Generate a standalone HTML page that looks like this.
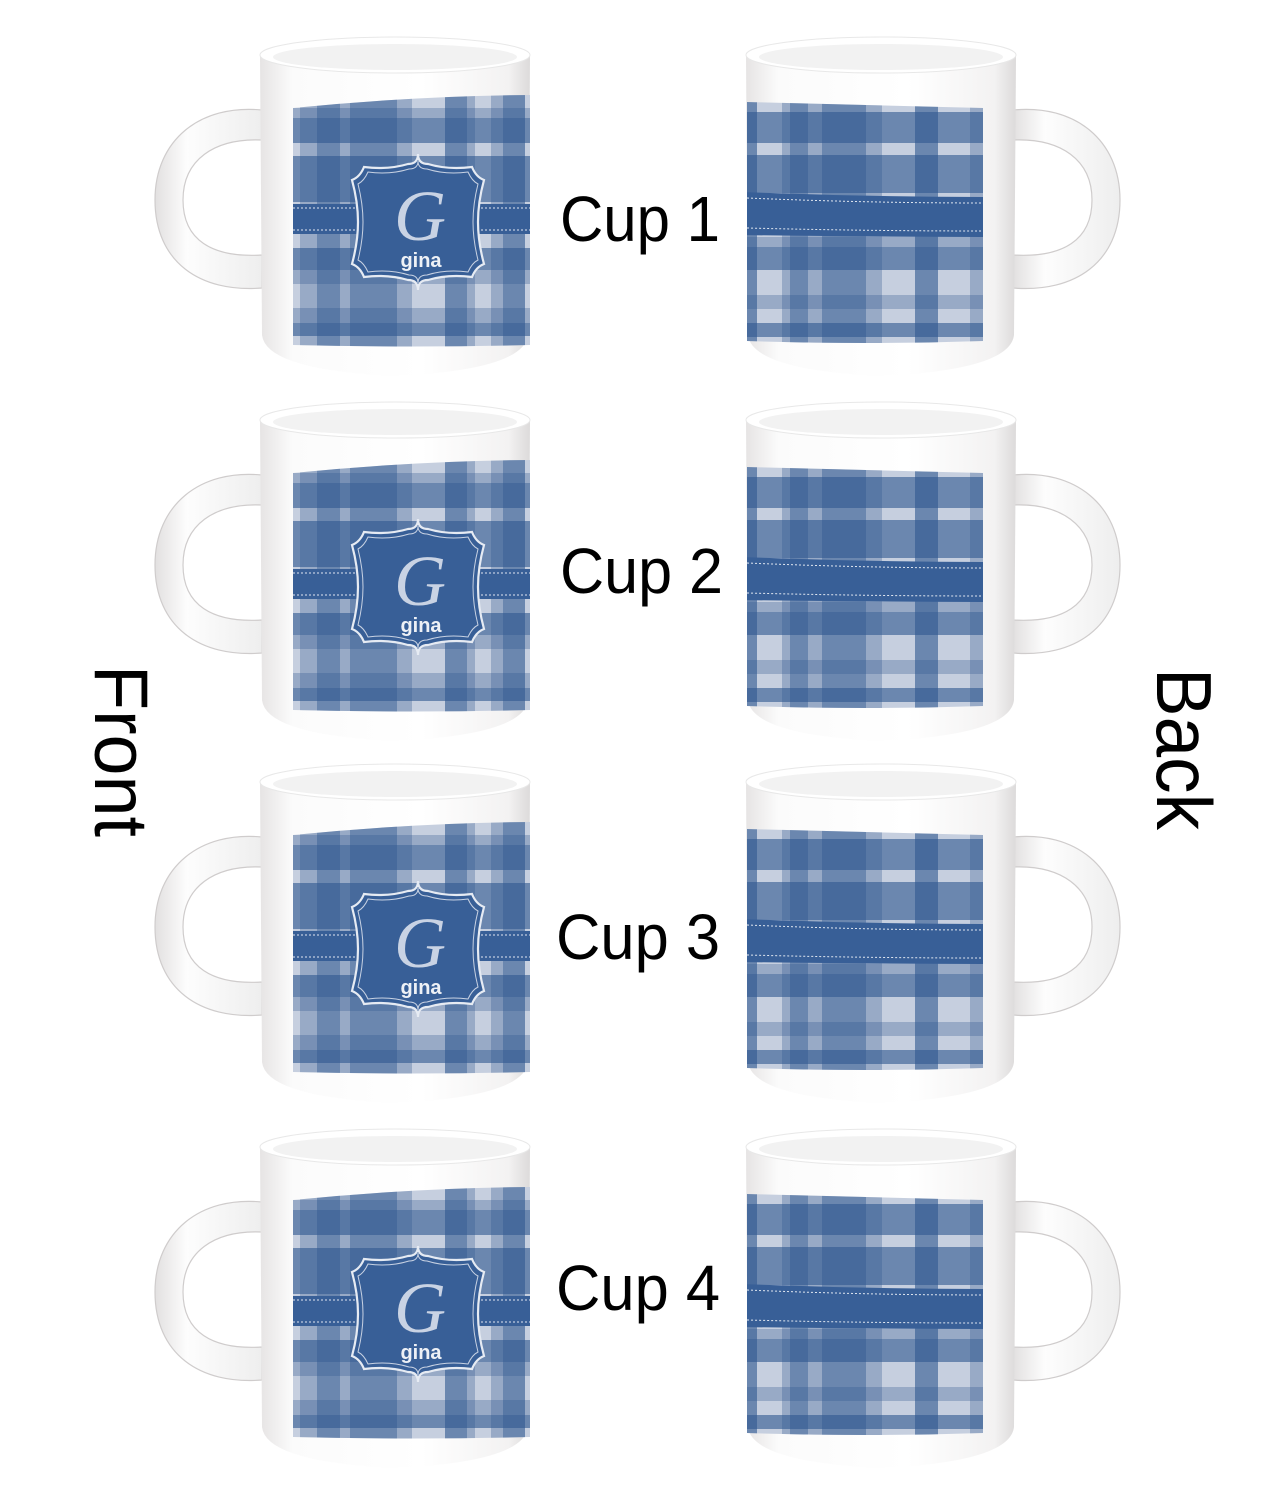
<!DOCTYPE html>
<html><head><meta charset="utf-8"><style>html,body{margin:0;padding:0;background:#fff}svg{display:block}</style></head>
<body>
<svg width="1275" height="1500" viewBox="0 0 1275 1500" xmlns="http://www.w3.org/2000/svg">
<defs>
<linearGradient id="body" x1="0" x2="1" y1="0" y2="0">
<stop offset="0" stop-color="#e6e4e4"/><stop offset="0.12" stop-color="#fbfbfb"/><stop offset="0.6" stop-color="#ffffff"/><stop offset="0.92" stop-color="#f3f2f2"/><stop offset="1" stop-color="#dcdada"/>
</linearGradient>
<linearGradient id="hand" x1="0" x2="1" y1="0" y2="0">
<stop offset="0" stop-color="#e2e0e0"/><stop offset="0.3" stop-color="#fdfdfd"/><stop offset="1" stop-color="#eeeeee"/>
</linearGradient>
<clipPath id="fc"><path d="M0,10 Q120,-2 237,-3 L237,247 Q120,250 0,247 Z"/></clipPath>
<clipPath id="bc"><path d="M0,-3 Q120,0 236,3 L236,236 Q120,240 0,236 Z"/></clipPath>
<g id="front">
<g clip-path="url(#fc)">
<rect x="0" y="-5" width="237" height="255" fill="#c6cfdf"/>
<g fill="#2f5690" fill-opacity="0.6">
<rect x="24" y="-5" width="23" height="255"/><rect x="57" y="-5" width="47" height="255"/>
<rect x="152" y="-5" width="22" height="255"/><rect x="210" y="-5" width="22" height="255"/>
<rect x="-5" y="20" width="250" height="25"/><rect x="-5" y="58" width="250" height="46"/>
<rect x="-5" y="150" width="250" height="22"/><rect x="-5" y="225" width="250" height="13"/>
</g>
<g fill="#2f5690" fill-opacity="0.3">
<rect x="7" y="-5" width="17" height="255"/><rect x="47" y="-5" width="10" height="255"/><rect x="104" y="-5" width="15" height="255"/><rect x="174" y="-5" width="8" height="255"/><rect x="198" y="-5" width="12" height="255"/>
<rect x="-5" y="10" width="250" height="10"/><rect x="-5" y="172" width="250" height="14"/><rect x="-5" y="210" width="250" height="15"/>
</g>
<rect x="-5" y="106" width="250" height="30" fill="#385f97"/>
<line x1="0" y1="110" x2="237" y2="110" stroke="#dfe6f0" stroke-width="1" stroke-dasharray="2,2"/>
<line x1="0" y1="132" x2="237" y2="132" stroke="#dfe6f0" stroke-width="1" stroke-dasharray="2,2"/>
</g>
<g transform="translate(125,124)">
<path d="M-54,-55 Q-30,-52 -10,-58 Q0,-58 0,-68 Q0,-58 10,-58 Q30,-52 54,-55 Q58,-45 66,-42 Q60,-20 60,0 Q60,20 66,42 Q58,45 54,55 Q30,52 10,58 Q0,58 0,68 Q0,58 -10,58 Q-30,52 -54,55 Q-58,45 -66,42 Q-60,20 -60,0 Q-60,-20 -66,-42 Q-58,-45 -54,-55 Z" fill="#385f97" stroke="#e6ebf3" stroke-width="2.2"/>
<path d="M-50,-50 Q-28,-47 -9,-53 Q0,-53 0,-61 Q0,-53 9,-53 Q28,-47 50,-50 Q54,-41 60,-38 Q55,-18 55,0 Q55,18 60,38 Q54,41 50,50 Q28,47 9,53 Q0,53 0,61 Q0,53 -9,53 Q-28,47 -50,50 Q-54,41 -60,38 Q-55,18 -55,0 Q-55,-18 -60,-38 Q-54,-41 -50,-50 Z" fill="none" stroke="#c8d2e3" stroke-width="1"/>
<text x="2" y="18" text-anchor="middle" font-family="Liberation Serif, serif" font-style="italic" font-size="72" fill="#c9d3e4">G</text>
<text x="3" y="45" text-anchor="middle" font-family="Liberation Sans, sans-serif" font-weight="bold" font-size="20" fill="#eef1f6">gina</text>
</g>
</g>
<g id="back">
<g clip-path="url(#bc)">
<rect x="0" y="-5" width="236" height="245" fill="#c6cfdf"/>
<g fill="#2f5690" fill-opacity="0.6">
<rect x="0" y="-5" width="10" height="245"/><rect x="43" y="-5" width="18" height="245"/><rect x="75" y="-5" width="44" height="245"/><rect x="168" y="-5" width="23" height="245"/>
<rect x="-5" y="7" width="250" height="31"/><rect x="-5" y="50" width="250" height="38"/><rect x="-5" y="142" width="250" height="23"/><rect x="-5" y="218" width="250" height="14"/>
</g>
<g fill="#2f5690" fill-opacity="0.3">
<rect x="35" y="-5" width="8" height="245"/><rect x="61" y="-5" width="14" height="245"/><rect x="119" y="-5" width="16" height="245"/><rect x="223" y="-5" width="13" height="245"/>
<rect x="-5" y="132" width="250" height="10"/><rect x="-5" y="190" width="250" height="14"/>
</g>
<path d="M-5,87 Q120,92 245,92 L245,132 Q120,132 -5,130 Z" fill="#385f97"/>
<path d="M0,93 Q120,98 236,98" fill="none" stroke="#dfe6f0" stroke-width="1" stroke-dasharray="2,2"/>
<path d="M0,123 Q120,126 236,126" fill="none" stroke="#dfe6f0" stroke-width="1" stroke-dasharray="2,2"/>
</g>
</g>
<g id="fmug">
<path d="M262,110 C200,104 155,140 155,200 C155,262 200,293 262,288 L262,255 C212,258 183,240 183,200 C183,160 214,138 262,140 Z" fill="url(#hand)" stroke="#cfcccc" stroke-width="1.2"/>
<path d="M260,55 L262,335 Q266,370 395,376 Q524,370 528,335 L530,55 Z" fill="url(#body)"/>
<ellipse cx="395" cy="55" rx="135" ry="18" fill="#ffffff" stroke="#e8e8e8" stroke-width="1"/>
<ellipse cx="395" cy="57" rx="122" ry="13" fill="#f2f2f2"/>
<use href="#front" x="293" y="98"/>
</g>
<g id="bmug">
<path d="M1013,110 C1075,104 1120,140 1120,200 C1120,262 1075,293 1013,288 L1013,255 C1063,258 1092,240 1092,200 C1092,160 1061,138 1013,140 Z" fill="url(#hand)" stroke="#cfcccc" stroke-width="1.2"/>
<path d="M746,55 L748,335 Q752,370 881,376 Q1010,370 1014,335 L1016,55 Z" fill="url(#body)"/>
<ellipse cx="881" cy="55" rx="135" ry="18" fill="#ffffff" stroke="#e8e8e8" stroke-width="1"/>
<ellipse cx="881" cy="57" rx="122" ry="13" fill="#f2f2f2"/>
<use href="#back" x="747" y="105"/>
</g>
</defs>
<use href="#fmug"/><use href="#bmug"/>
<use href="#fmug" y="365"/><use href="#bmug" y="365"/>
<use href="#fmug" y="727"/><use href="#bmug" y="727"/>
<use href="#fmug" y="1092"/><use href="#bmug" y="1092"/>
<g font-family="Liberation Sans, sans-serif" fill="#000">
<text x="560" y="241" font-size="64" textLength="160" lengthAdjust="spacingAndGlyphs">Cup 1</text>
<text x="560" y="593" font-size="64" textLength="163" lengthAdjust="spacingAndGlyphs">Cup 2</text>
<text x="556" y="959" font-size="64" textLength="164" lengthAdjust="spacingAndGlyphs">Cup 3</text>
<text x="556" y="1310" font-size="64" textLength="164" lengthAdjust="spacingAndGlyphs">Cup 4</text>
<text transform="translate(95,665) rotate(90)" font-size="76" textLength="172" lengthAdjust="spacingAndGlyphs">Front</text>
<text transform="translate(1157,668) rotate(90)" font-size="78" textLength="162" lengthAdjust="spacingAndGlyphs">Back</text>
</g>
</svg>
</body></html>
